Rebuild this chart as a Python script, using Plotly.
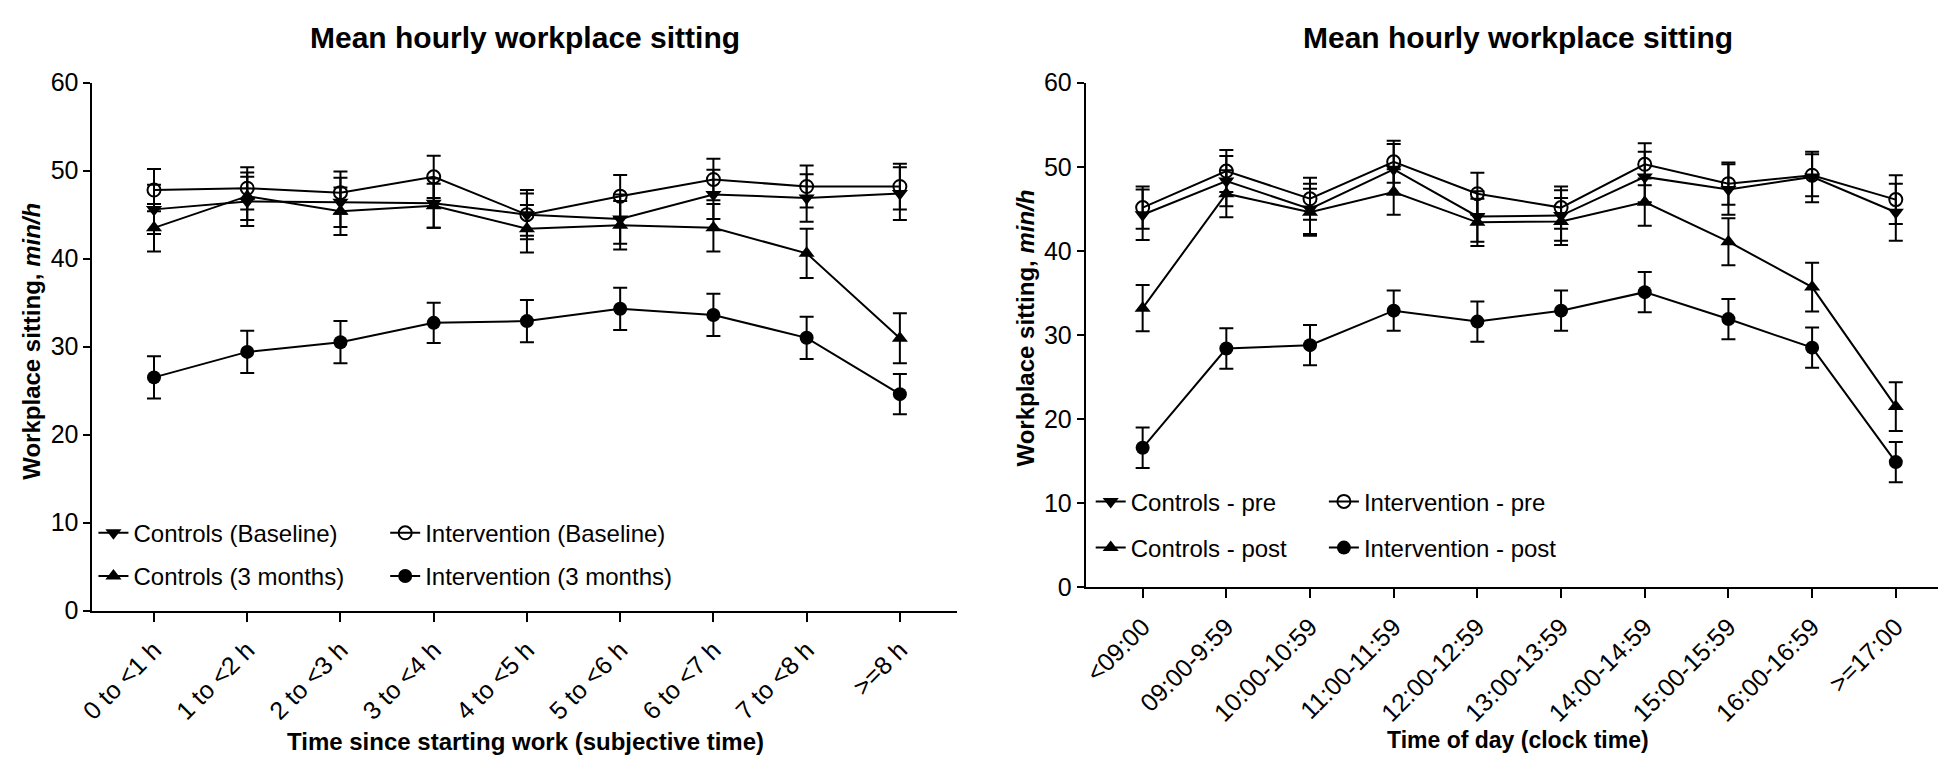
import plotly.graph_objects as go

W, H = 1946, 762

# ---------------- data ----------------
cats_left = ["0 to <1 h", "1 to <2 h", "2 to <3 h", "3 to <4 h", "4 to <5 h",
             "5 to <6 h", "6 to <7 h", "7 to <8 h", ">=8 h"]
ctrl_base = [45.6, 46.5, 46.4, 46.3, 45.0, 44.5, 47.3, 46.9, 47.4]
ctrl_base_se = [2.8, 2.8, 2.8, 2.8, 2.8, 2.8, 2.8, 2.7, 3.0]
int_base = [47.8, 48.0, 47.5, 49.3, 45.0, 47.1, 49.0, 48.2, 48.2]
int_base_se = [2.4, 2.4, 2.4, 2.4, 2.4, 2.4, 2.35, 2.4, 2.6]
ctrl_3m = [43.5, 47.1, 45.4, 46.0, 43.4, 43.8, 43.5, 40.6, 30.95]
ctrl_3m_se = [2.7, 2.7, 2.7, 2.5, 2.7, 2.75, 2.7, 2.8, 2.85]
int_3m = [26.5, 29.4, 30.5, 32.7, 32.9, 34.3, 33.6, 31.0, 24.6]
int_3m_se = [2.4, 2.4, 2.4, 2.3, 2.4, 2.4, 2.4, 2.4, 2.3]

cats_right = ["<09:00", "09:00-9:59", "10:00-10:59", "11:00-11:59", "12:00-12:59",
              "13:00-13:59", "14:00-14:59", "15:00-15:59", "16:00-16:59", ">=17:00"]
ctrl_pre = [44.3, 48.3, 45.0, 49.7, 44.1, 44.2, 48.8, 47.3, 48.8, 44.6]
ctrl_pre_se = [3.0, 3.0, 3.0, 3.0, 3.0, 3.0, 3.0, 3.0, 3.0, 3.4]
int_pre = [45.15, 49.5, 46.2, 50.6, 46.8, 45.15, 50.3, 48.0, 49.0, 46.1]
int_pre_se = [2.5, 2.5, 2.5, 2.5, 2.5, 2.5, 2.5, 2.5, 2.5, 2.9]
ctrl_post = [33.2, 46.8, 44.6, 47.0, 43.4, 43.5, 45.8, 41.1, 35.7, 21.5]
ctrl_post_se = [2.75, 2.8, 2.8, 2.7, 2.8, 2.8, 2.8, 2.8, 2.9, 2.9]
int_post = [16.6, 28.4, 28.8, 32.9, 31.6, 32.9, 35.1, 31.9, 28.5, 14.9]
int_post_se = [2.4, 2.4, 2.4, 2.4, 2.4, 2.4, 2.4, 2.4, 2.4, 2.4]

title_text = "Mean hourly workplace sitting"
y_title = "Workplace sitting, <i>min/h</i>"
x_title_left = "Time since starting work (subjective time)"
x_title_right = "Time of day (clock time)"

left_series = [
    ("Controls (Baseline)", ctrl_base, ctrl_base_se, "triangle-down", "legend"),
    ("Controls (3 months)", ctrl_3m, ctrl_3m_se, "triangle-up", "legend"),
    ("Intervention (Baseline)", int_base, int_base_se, "circle-open", "legend2"),
    ("Intervention (3 months)", int_3m, int_3m_se, "circle", "legend2"),
]
right_series = [
    ("Controls - pre", ctrl_pre, ctrl_pre_se, "triangle-down", "legend3"),
    ("Controls - post", ctrl_post, ctrl_post_se, "triangle-up", "legend3"),
    ("Intervention - pre", int_pre, int_pre_se, "circle-open", "legend4"),
    ("Intervention - post", int_post, int_post_se, "circle", "legend4"),
]

FONT = "Liberation Sans, Arial, Helvetica, sans-serif"
BLACK = "#000000"
SIZES = {"triangle-down": 14, "triangle-up": 14, "circle-open": 13, "circle": 14}

fig = go.Figure()


def add(series, cats, xa, ya):
    for name, vals, se, sym, leg in series:
        fig.add_trace(go.Scatter(
            x=cats, y=vals, name=name, mode="lines+markers",
            xaxis=xa, yaxis=ya, legend=leg, legendgroup=name,
            line=dict(color=BLACK, width=2),
            marker=dict(symbol=sym, size=SIZES[sym], color=BLACK,
                        line=dict(color=BLACK, width=2 if sym == "circle-open" else 0)),
            error_y=dict(type="data", array=se, visible=True,
                         color=BLACK, thickness=2, width=7),
        ))


add(left_series, cats_left, "x", "y")
add(right_series, cats_right, "x2", "y2")


def px_x(p):
    return p / W


def px_y(p):
    return 1 - p / H


axis_common = dict(showline=True, linecolor=BLACK, linewidth=2, ticks="outside",
                   tickcolor=BLACK, tickwidth=2, showgrid=False, zeroline=False,
                   tickfont=dict(family=FONT, size=25, color=BLACK))

yt = dict(range=[0, 60], tickvals=[0, 10, 20, 30, 40, 50, 60], ticklen=7, **axis_common)
xt = dict(type="category", tickangle=-45, ticklen=9, ticklabelstandoff=4, **axis_common)

fig.update_layout(
    width=W, height=H,
    margin=dict(l=0, r=0, t=0, b=0),
    paper_bgcolor="white", plot_bgcolor="white",
    font=dict(family=FONT, color=BLACK),
    xaxis=dict(domain=[px_x(70), px_x(941)], range=[-0.66, 8.61], anchor="y", **xt),
    yaxis=dict(domain=[px_y(611), px_y(63)], anchor="x", **yt),
    xaxis2=dict(domain=[px_x(1071), px_x(1943)], range=[-0.68, 9.66], anchor="y2", **xt),
    yaxis2=dict(domain=[px_y(587), px_y(63)], anchor="x2", **yt),
)

leg_common = dict(orientation="v", bgcolor="rgba(0,0,0,0)", borderwidth=0,
                  font=dict(family=FONT, size=24, color=BLACK),
                  xanchor="left", yanchor="middle", itemclick=False,
                  itemdoubleclick=False)

fig.update_layout(
    legend=dict(x=px_x(71), y=px_y(553), tracegroupgap=9, **leg_common),
    legend2=dict(x=px_x(365), y=px_y(553), tracegroupgap=9, **leg_common),
    legend3=dict(x=px_x(1076), y=px_y(522), tracegroupgap=12, **leg_common),
    legend4=dict(x=px_x(1311), y=px_y(522), tracegroupgap=12, **leg_common),
)


def ann(text, x, y, size, angle=0, xanchor="center"):
    fig.add_annotation(text="<b>" + text + "</b>", xref="paper", yref="paper",
                       x=px_x(x), y=px_y(y), xanchor=xanchor, yanchor="middle",
                       textangle=angle, showarrow=False,
                       font=dict(family=FONT, size=size, color=BLACK))


# panel titles
ann(title_text, 506, 16, 30)
ann(title_text, 1507, 16, 30)
# axis titles
ann(y_title, 9, 331, 24, -90)
ann(y_title, 1010, 318, 24, -90)
ann(x_title_left, 506, 747, 24)
ann(x_title_right, 1507, 745, 23)

fig.write_html("out.html")
